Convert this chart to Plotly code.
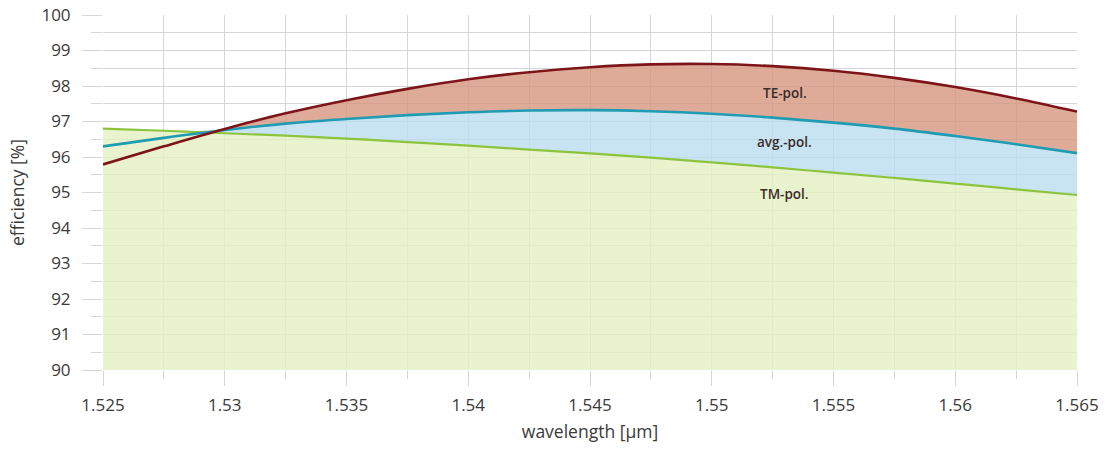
import numpy as np
import plotly.graph_objects as go

# ---- data ----
wavelength = [1.525, 1.5275, 1.53, 1.5325, 1.535, 1.5375, 1.54, 1.5425, 1.545,
              1.5475, 1.55, 1.5525, 1.555, 1.5575, 1.56, 1.5625, 1.565]
te_pol = [95.79, 96.30, 96.79, 97.23, 97.60, 97.92, 98.19, 98.39, 98.53,
          98.61, 98.62, 98.56, 98.43, 98.23, 97.97, 97.65, 97.28]
avg_pol = [96.30, 96.54, 96.76, 96.94, 97.07, 97.18, 97.26, 97.31, 97.32,
           97.29, 97.22, 97.11, 96.97, 96.80, 96.59, 96.36, 96.11]
tm_pol = [96.80, 96.74, 96.67, 96.60, 96.52, 96.42, 96.32, 96.21, 96.10,
          95.98, 95.85, 95.71, 95.56, 95.41, 95.25, 95.09, 94.93]

x_tick_vals = [1.525, 1.53, 1.535, 1.54, 1.545, 1.55, 1.555, 1.56, 1.565]
x_tick_text = ["1.525", "1.53", "1.535", "1.54", "1.545", "1.55", "1.555", "1.56", "1.565"]
y_tick_vals = [90, 91, 92, 93, 94, 95, 96, 97, 98, 99, 100]

labels = ["TE-pol.", "avg.-pol.", "TM-pol."]
label_x = [1.5530, 1.5530, 1.5530]
label_y = [97.80, 96.42, 94.96]

# ---- colours ----
TE_LINE = "#7d1518"
AVG_LINE = "#1f9bb2"
TM_LINE = "#8cc43e"
TE_FILL = "rgba(214,150,127,0.8)"
AVG_FILL = "rgba(186,221,239,0.8)"
TM_FILL = "rgba(228,240,193,0.8)"
GRID = "#d6d6d6"

tm = np.array(tm_pol)
avg_top = np.maximum(np.array(avg_pol), tm)
te_top = np.maximum(np.array(te_pol), avg_top)

fig = go.Figure()
fig.add_trace(go.Scatter(x=wavelength, y=tm_pol, mode="lines", line=dict(width=0, shape="spline"),
                         fill="tozeroy", fillcolor=TM_FILL, hoverinfo="skip", showlegend=False))
fig.add_trace(go.Scatter(x=wavelength, y=avg_top, mode="lines", line=dict(width=0, shape="spline"),
                         fill="tonexty", fillcolor=AVG_FILL, hoverinfo="skip", showlegend=False))
fig.add_trace(go.Scatter(x=wavelength, y=te_top, mode="lines", line=dict(width=0, shape="spline"),
                         fill="tonexty", fillcolor=TE_FILL, hoverinfo="skip", showlegend=False))

fig.add_trace(go.Scatter(x=wavelength, y=tm_pol, mode="lines", name="TM-pol.",
                         line=dict(color=TM_LINE, width=2.2, shape="spline"), showlegend=False))
fig.add_trace(go.Scatter(x=wavelength, y=avg_pol, mode="lines", name="avg.-pol.",
                         line=dict(color=AVG_LINE, width=2.6, shape="spline"), showlegend=False))
fig.add_trace(go.Scatter(x=wavelength, y=te_pol, mode="lines", name="TE-pol.",
                         line=dict(color=TE_LINE, width=2.6, shape="spline"), showlegend=False))

for t, lx, ly in zip(labels, label_x, label_y):
    fig.add_annotation(x=lx, y=ly, text=t, showarrow=False,
                       font=dict(family="Open Sans", size=13.5, color="#3b2b2b", weight=600))

tick_font = dict(family="Open Sans", size=17, color="#3a3a3a")
title_font = dict(family="Open Sans", size=17.5, color="#3a3a3a")

fig.update_layout(
    width=1109, height=450,
    margin=dict(l=103, r=32, t=15, b=80),
    paper_bgcolor="white", plot_bgcolor="white",
    font=tick_font,
    xaxis=dict(
        range=[1.525, 1.565], tickvals=x_tick_vals, ticktext=x_tick_text,
        showgrid=True, gridcolor=GRID, gridwidth=1.3, zeroline=False, showline=False,
        ticks="outside", ticklen=15, tickcolor=GRID, tickwidth=1.3, ticklabelstandoff=5,
        minor=dict(dtick=0.0025, tick0=1.525, showgrid=True, gridcolor=GRID, gridwidth=1.3,
                   ticks="outside", ticklen=8, tickcolor=GRID, tickwidth=1.3),
        title=dict(text="wavelength [µm]", standoff=10, font=title_font),
        tickfont=tick_font, automargin=False, ticklabeloverflow="allow",
    ),
    yaxis=dict(
        range=[90, 100.0005], tickvals=y_tick_vals,
        showgrid=True, gridcolor=GRID, gridwidth=1.3, zeroline=False, showline=False,
        ticks="outside", ticklen=20, tickcolor=GRID, tickwidth=1.3, ticklabelstandoff=8,
        minor=dict(dtick=0.5, tick0=90, showgrid=True, gridcolor=GRID, gridwidth=1.3,
                   ticks="outside", ticklen=11, tickcolor=GRID, tickwidth=1.3),
        title=dict(text="efficiency [%]", standoff=12, font=title_font),
        tickfont=tick_font, automargin=False, ticklabeloverflow="allow",
    ),
)

# remove the default 8px page margin so the figure fills the window exactly
fig.write_html("out.html", config={"displayModeBar": False},
               post_script="document.body.style.margin='0';")
